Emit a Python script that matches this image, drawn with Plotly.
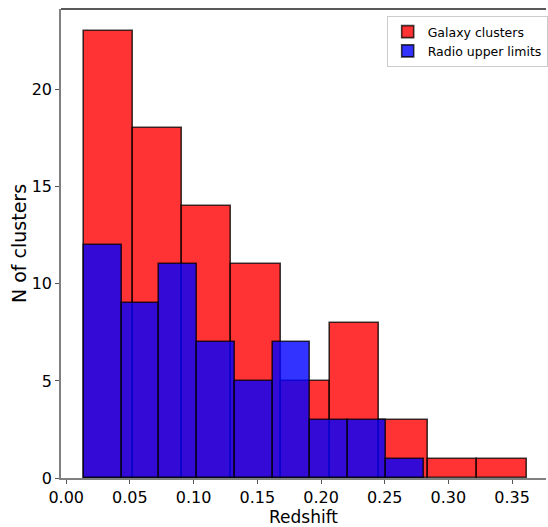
import plotly.graph_objects as go

# Data
red_edges = [0.0137, 0.0523, 0.0910, 0.1296, 0.1683, 0.2069, 0.2455, 0.2842, 0.3228, 0.3615]
red_counts = [23, 18, 14, 11, 5, 8, 3, 1, 1]
blue_edges = [0.0138, 0.0434, 0.0730, 0.1027, 0.1323, 0.1620, 0.1916, 0.2212, 0.2509, 0.2805]
blue_counts = [12, 9, 11, 7, 5, 7, 3, 3, 1]
x_ticks = [0.00, 0.05, 0.10, 0.15, 0.20, 0.25, 0.30, 0.35]
y_ticks = [0, 5, 10, 15, 20]

FONT = "DejaVu Sans"


def bar_trace(edges, counts, name, fill):
    lefts = edges[:-1]
    widths = [b - a for a, b in zip(edges[:-1], edges[1:])]
    return go.Bar(
        x=lefts, y=counts, width=widths, offset=0, name=name,
        marker=dict(color=fill, line=dict(color="rgba(0,0,0,0.75)", width=1.6)),
    )


fig = go.Figure()
fig.add_trace(bar_trace(red_edges, red_counts, "Galaxy clusters", "rgba(255,0,0,0.8)"))
fig.add_trace(bar_trace(blue_edges, blue_counts, "Radio upper limits", "rgba(0,0,255,0.8)"))

fig.update_layout(
    width=548, height=527,
    margin=dict(l=61, r=0, t=9, b=49),
    paper_bgcolor="white", plot_bgcolor="white",
    barmode="overlay", bargap=0,
    font=dict(family=FONT, color="black"),
    legend=dict(
        x=0.6715, y=0.985, xanchor="left", yanchor="top",
        bgcolor="white", bordercolor="#cccccc", borderwidth=1,
        font=dict(size=12.5, family=FONT), tracegroupgap=0,
    ),
    xaxis=dict(
        range=[-0.0041, 0.3766], tickvals=x_ticks, tickformat=".2f",
        showgrid=False, zeroline=False,
        showline=True, linecolor="#808080", linewidth=1.5,
        ticks="outside", ticklen=4, tickcolor="#555555", tickwidth=1,
        tickfont=dict(size=16, family=FONT),
        title=dict(text="Redshift", font=dict(size=17, family=FONT), standoff=6),
    ),
    yaxis=dict(
        range=[0, 24.15], tickvals=y_ticks,
        showgrid=False, zeroline=False,
        showline=True, linecolor="#808080", linewidth=1.5,
        ticks="outside", ticklen=4, tickcolor="#555555", tickwidth=1,
        tickfont=dict(size=16, family=FONT),
        title=dict(text="N of clusters", font=dict(size=19, family=FONT), standoff=0),
    ),
    shapes=[dict(type="line", xref="paper", yref="paper", x0=0, x1=1, y0=1, y1=1,
                 line=dict(color="#222222", width=1.5))],
)

fig.write_html(
    "out.html",
    config={"displayModeBar": False},
    post_script="document.body.style.margin='0';document.body.style.overflow='hidden';",
)
